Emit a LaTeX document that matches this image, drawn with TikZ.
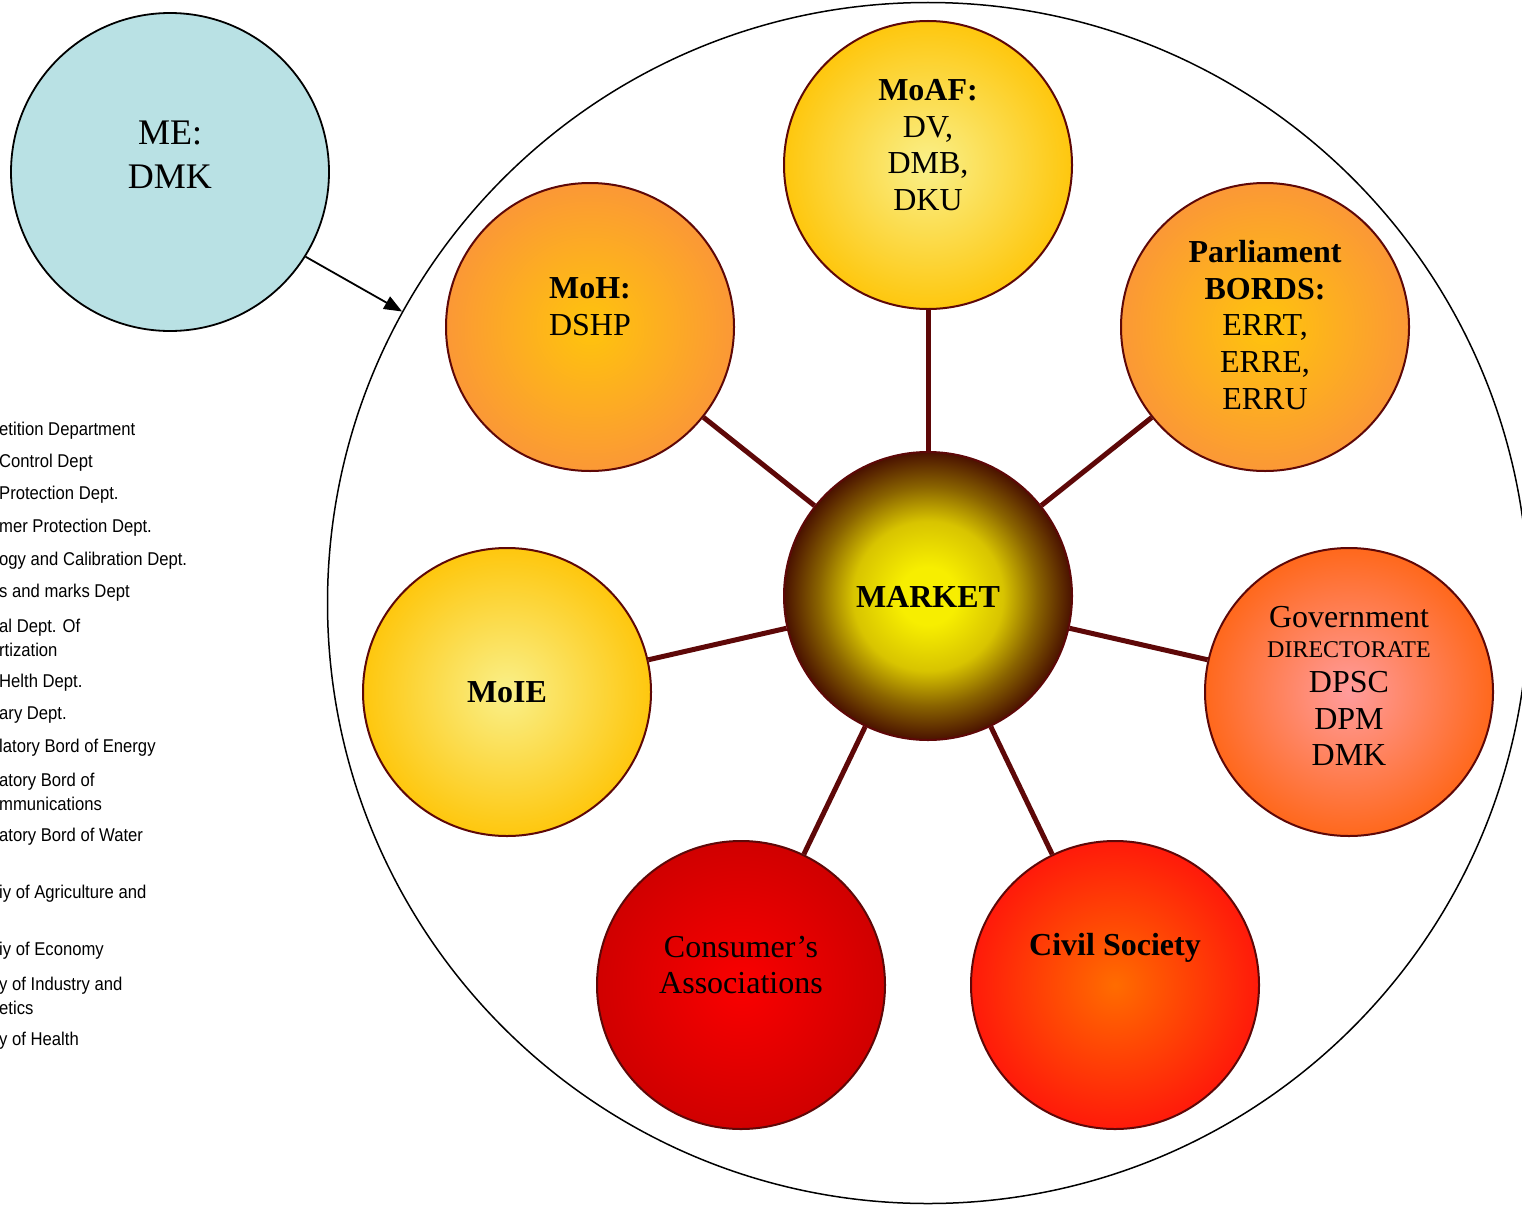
\documentclass[tikz,border=0pt]{standalone}
\usepackage{fontspec}
\setmainfont{Liberation Serif}
\newfontfamily\listfont{Liberation Sans}[FakeStretch=0.9]
\usetikzlibrary{arrows.meta,backgrounds}

\definecolor{edgered}{HTML}{5E0808}
\definecolor{meblue}{HTML}{B9E1E4}
\definecolor{mkin}{HTML}{F7EE00}
\definecolor{mkmid}{HTML}{D8C400}
\definecolor{mkdark}{HTML}{8A6400}
\definecolor{mkout}{HTML}{4A1200}
\definecolor{yin}{HTML}{F9F08A}
\definecolor{yout}{HTML}{FEC70E}
\definecolor{oin}{HTML}{FFC40C}
\definecolor{oout}{HTML}{FB9836}
\definecolor{gin}{HTML}{FF9C9C}
\definecolor{gout}{HTML}{FF681C}
\definecolor{cin}{HTML}{FA0000}
\definecolor{cout}{HTML}{D00000}
\definecolor{sin}{HTML}{FF6C00}
\definecolor{sout}{HTML}{FF1A0A}

\pgfdeclareradialshading{marketshade}{\pgfpointorigin}{color(0bp)=(mkin); color(5bp)=(mkin); color(13bp)=(mkmid); color(19bp)=(mkdark); color(25bp)=(mkout); color(50bp)=(mkout)}
\pgfdeclareradialshading{yellowshade}{\pgfpointorigin}{color(0bp)=(yin); color(25bp)=(yout); color(50bp)=(yout)}
\pgfdeclareradialshading{orangeshade}{\pgfpointorigin}{color(0bp)=(oin); color(25bp)=(oout); color(50bp)=(oout)}
\pgfdeclareradialshading{govshade}{\pgfpointorigin}{color(0bp)=(gin); color(25bp)=(gout); color(50bp)=(gout)}
\pgfdeclareradialshading{consshade}{\pgfpointorigin}{color(0bp)=(cin); color(25bp)=(cout); color(50bp)=(cout)}
\pgfdeclareradialshading{civilshade}{\pgfpointorigin}{color(0bp)=(sin); color(25bp)=(sout); color(50bp)=(sout)}

\tikzset{
  ball/.style={circle, draw=edgered, line width=2pt, minimum size=288pt, inner sep=0pt},
  ctext/.style={align=center, font=\fontsize{32}{36.7}\selectfont, inner sep=0pt},
  listtext/.style={anchor=west, align=left, inner sep=0pt, font=\listfont\fontsize{18.5}{24.5}\selectfont, text=black},
  spoke/.style={draw=edgered, line width=5pt}
}

\begin{document}
\begin{tikzpicture}[x=1pt, y=-1pt]
\useasboundingbox (0,0) rectangle (1522,1207);
\clip (0,0) rectangle (1522,1207);

% outer frame circle
\node[circle, draw=black, line width=1.5pt, minimum size=1201pt, inner sep=0pt] (frame) at (928,603) {};

% ME circle
\node[circle, draw=black, line width=1.8pt, fill=meblue, minimum size=318pt, inner sep=0pt] (me) at (170,172) {};
\node[align=center, inner sep=0pt, font=\fontsize{36}{44}\selectfont] (me-t) at (170,155) {ME:\\DMK};
\draw[line width=1.8pt, -{Triangle[length=18pt, width=14pt]}] (me.-32) -- (frame.151.5);

% circles
\node[ball, shading=marketshade] (market) at (928,596) {};
\node[ball, shading=yellowshade] (moaf) at (928,165) {};
\node[ball, shading=orangeshade] (moh) at (590,327) {};
\node[ball, shading=orangeshade] (parl) at (1265,327) {};
\node[ball, shading=yellowshade] (moie) at (507,692) {};
\node[ball, shading=govshade] (gov) at (1349,692) {};
\node[ball, shading=consshade] (cons) at (741,985) {};
\node[ball, shading=civilshade] (civil) at (1115,985) {};

% texts
\node[ctext] (market-t) at (928,597) {\textbf{MARKET}};
\node[ctext] (moaf-t) at (928,145) {\textbf{MoAF:}\\DV,\\DMB,\\DKU};
\node[ctext] (moh-t) at (590,307) {\textbf{MoH:}\\DSHP};
\node[ctext] (parl-t) at (1265,325) {\textbf{Parliament}\\\textbf{BORDS:}\\ERRT,\\ERRE,\\ERRU};
\node[ctext] (moie-t) at (507,692) {\textbf{MoIE}};
\node[ctext, font=\fontsize{32}{36.5}\selectfont] (gov-t) at (1349,686) {Government\\[-7pt]{\fontsize{24}{26}\selectfont DIRECTORATE}\\[-1pt]DPSC\\DPM\\DMK};
\node[ctext] (cons-t) at (741,965) {Consumer’s\\Associations};
\node[ctext] (civil-t) at (1115,948) {\textbf{Civil Society}};

% spokes
\begin{scope}[on background layer]
\foreach \n in {moaf,moh,parl,moie,gov,cons,civil}
  \draw[spoke] (market) -- (\n);
\end{scope}

% left list (cut off at the left edge)
\foreach \y/\t [count=\i] in {
  431/{etition Department},
  463/{Control Dept},
  495/{Protection Dept.},
  528/{mer Protection Dept.},
  561/{ogy and Calibration Dept.},
  593/{s and marks Dept},
  638/{al Dept. Of\\rtization},
  683/{ Helth Dept.},
  715/{ary Dept.},
  748/{latory Bord of Energy},
  792/{atory Bord of\\mmunications},
  837/{atory Bord of Water},
  894/{iy of Agriculture and},
  951/{iy of Economy},
  996/{y of Industry and\\etics},
  1041/{y of Health}}
  \node[listtext] (list\i) at (-1,\y) {\t};
\end{tikzpicture}
\end{document}
